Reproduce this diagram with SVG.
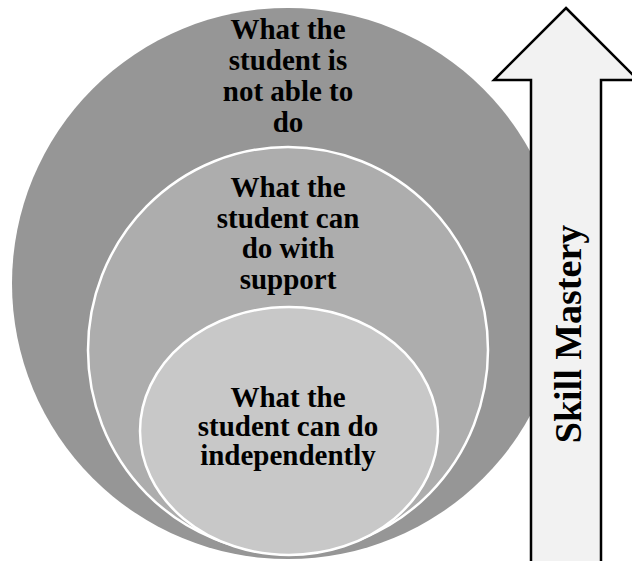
<svg xmlns="http://www.w3.org/2000/svg" width="632" height="561" viewBox="0 0 632 561">
  <style>
    .lbl { font-family: "Liberation Serif", "Times New Roman", serif; font-weight: bold; font-size: 29px; fill: #000; text-anchor: middle; }
    .ring { stroke: #ffffff; stroke-width: 2.5; }
    .axis { font-family: "Liberation Serif", "Times New Roman", serif; font-weight: bold; font-size: 38px; fill: #000; text-anchor: middle; }
  </style>
  <rect width="632" height="561" fill="#ffffff"/>

  <!-- nested target: outer ring -->
  <g id="not-able">
    <ellipse cx="288" cy="283.5" rx="276" ry="275.5" fill="#969696"/>
    <text class="lbl" x="288" y="39">What the</text>
    <text class="lbl" x="288" y="70">student is</text>
    <text class="lbl" x="288" y="101">not able to</text>
    <text class="lbl" x="288" y="132">do</text>
  </g>

  <!-- middle ring -->
  <g id="with-support">
    <ellipse class="ring" cx="288" cy="350" rx="200" ry="203" fill="#adadad"/>
    <text class="lbl" x="288" y="197">What the</text>
    <text class="lbl" x="288" y="227.5">student can</text>
    <text class="lbl" x="288" y="258">do with</text>
    <text class="lbl" x="288" y="288.5">support</text>
  </g>

  <!-- inner disc -->
  <g id="independently">
    <ellipse class="ring" cx="289" cy="431" rx="149" ry="124" fill="#c8c8c8"/>
    <text class="lbl" x="288" y="407">What the</text>
    <text class="lbl" x="288" y="436">student can do</text>
    <text class="lbl" x="288" y="465">independently</text>
  </g>

  <!-- upward block arrow -->
  <g id="skill-mastery">
    <path d="M566,8 L638,80 L601,80 L601,570 L531,570 L531,80 L494,80 Z" fill="#f2f2f2" stroke="#000000" stroke-width="2.5" stroke-linejoin="miter"/>
    <text class="axis" transform="translate(581,334) rotate(-90)" x="0" y="0">Skill Mastery</text>
  </g>

  <g id="connectors"></g>
</svg>
